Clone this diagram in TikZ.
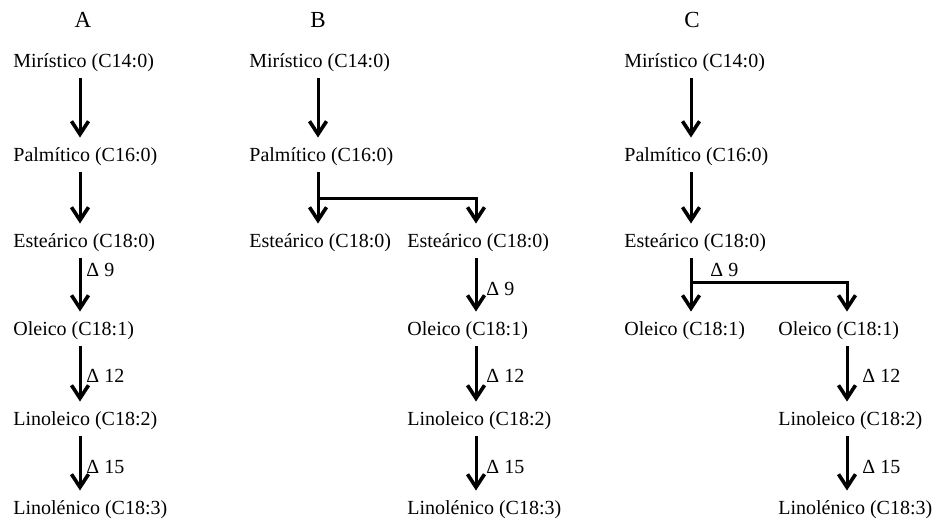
\documentclass[tikz,border=0pt]{standalone}
\usepackage{fontspec}
\setmainfont{Liberation Serif}
\usetikzlibrary{arrows.meta}

\tikzset{
  acid/.style={anchor=west, inner sep=0pt, font=\fontsize{10}{12}\selectfont},
  heading/.style={inner sep=0pt, font=\fontsize{11.5}{13}\selectfont},
  enzyme/.style={anchor=west, inner sep=0pt, font=\fontsize{10}{12}\selectfont},
  flow/.style={line width=1.5pt, -{Straight Barb[length=6.5pt,width=8.5pt,line width=1.8pt]},
    shorten <=3pt, shorten >=5pt}
}

\begin{document}
\begin{tikzpicture}[x=0.5pt, y=-0.5pt]
\useasboundingbox (0,0) rectangle (937,531);

% The headings
\node[heading] (hA) at (83,20) {A};
\node[heading] (hB) at (318,20) {B};
\node[heading] (hC) at (692,20) {C};

% Column A
\node[acid] (mA) at (13,63) {Mirístico (C14:0)};
\node[acid] (pA) at (13,157) {Palmítico (C16:0)};
\node[acid] (eA) at (13,243) {Esteárico (C18:0)};
\node[acid] (oA) at (13,331) {Oleico (C18:1)};
\node[acid] (lA) at (13,421) {Linoleico (C18:2)};
\node[acid] (nA) at (13,510) {Linolénico (C18:3)};
\draw[flow] (mA.south -| 80,0) -- (pA.north -| 80,0);
\draw[flow] (pA.south -| 80,0) -- (eA.north -| 80,0);
\draw[flow] (eA.south -| 80,0) -- (oA.north -| 80,0);
\draw[flow] (oA.south -| 80,0) -- (lA.north -| 80,0);
\draw[flow] (lA.south -| 80,0) -- (nA.north -| 80,0);
\node[enzyme] (dA9) at (86,270) {Δ 9};
\node[enzyme] (dA12) at (86,376) {Δ 12};
\node[enzyme] (dA15) at (86,467) {Δ 15};

% Column B
\node[acid] (mB) at (249,63) {Mirístico (C14:0)};
\node[acid] (pB) at (249,157) {Palmítico (C16:0)};
\node[acid] (eB) at (249,243) {Esteárico (C18:0)};
\node[acid] (eBb) at (407,243) {Esteárico (C18:0)};
\node[acid] (oB) at (407,331) {Oleico (C18:1)};
\node[acid] (lB) at (407,421) {Linoleico (C18:2)};
\node[acid] (nB) at (407,510) {Linolénico (C18:3)};
\coordinate (jB) at (318,198);
\draw[flow] (mB.south -| 318,0) -- (pB.north -| 318,0);
\draw[flow] (pB.south -| 318,0) -- (jB) -- (eB.north -| 318,0);
\draw[flow, shorten <=0pt] (jB) -| (eBb.north -| 476,0);
\draw[flow] (eBb.south -| 476,0) -- (oB.north -| 476,0);
\draw[flow] (oB.south -| 476,0) -- (lB.north -| 476,0);
\draw[flow] (lB.south -| 476,0) -- (nB.north -| 476,0);
\node[enzyme] (dB9) at (486,289) {Δ 9};
\node[enzyme] (dB12) at (486,376) {Δ 12};
\node[enzyme] (dB15) at (486,467) {Δ 15};

% Column C
\node[acid] (mC) at (624,63) {Mirístico (C14:0)};
\node[acid] (pC) at (624,157) {Palmítico (C16:0)};
\node[acid] (eC) at (624,243) {Esteárico (C18:0)};
\node[acid] (oC) at (624,331) {Oleico (C18:1)};
\node[acid] (oCb) at (778,331) {Oleico (C18:1)};
\node[acid] (lC) at (778,421) {Linoleico (C18:2)};
\node[acid] (nC) at (778,510) {Linolénico (C18:3)};
\coordinate (jC) at (691,282);
\draw[flow] (mC.south -| 691,0) -- (pC.north -| 691,0);
\draw[flow] (pC.south -| 691,0) -- (eC.north -| 691,0);
\draw[flow] (eC.south -| 691,0) -- (jC) -- (oC.north -| 691,0);
\draw[flow, shorten <=0pt] (jC) -| (oCb.north -| 847,0);
\draw[flow] (oCb.south -| 847,0) -- (lC.north -| 847,0);
\draw[flow] (lC.south -| 847,0) -- (nC.north -| 847,0);
\node[enzyme] (dC9) at (710,270) {Δ 9};
\node[enzyme] (dC12) at (862,376) {Δ 12};
\node[enzyme] (dC15) at (862,467) {Δ 15};

\end{tikzpicture}
\end{document}
